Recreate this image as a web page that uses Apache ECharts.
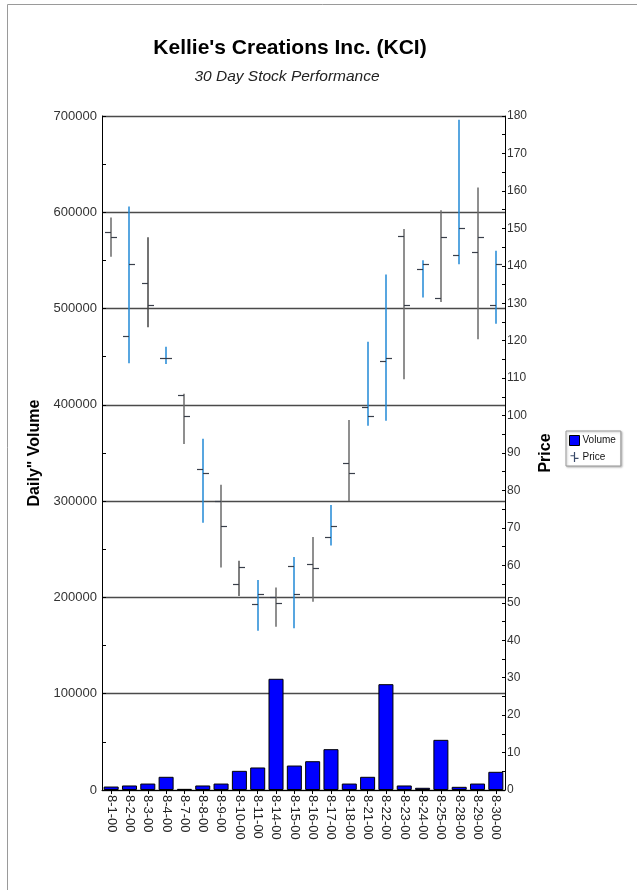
<!DOCTYPE html>
<html>
<head>
<meta charset="utf-8">
<title>Kellie's Creations Inc. (KCI)</title>
<script src="https://cdn.jsdelivr.net/npm/echarts@6/dist/echarts.min.js"></script>
<style>
  html, body { margin: 0; padding: 0; background: #fff; }
  #chart { width: 637px; height: 890px; }
</style>
</head>
<body>
<div id="chart"></div>
<script>
// Trading days, August 2000
const categories = ['8-1-00', '8-2-00', '8-3-00', '8-4-00', '8-7-00', '8-8-00', '8-9-00', '8-10-00',
  '8-11-00', '8-14-00', '8-15-00', '8-16-00', '8-17-00', '8-18-00', '8-21-00', '8-22-00',
  '8-23-00', '8-24-00', '8-25-00', '8-28-00', '8-29-00', '8-30-00'];

// Daily share volume
const volume = [3600, 4700, 6700, 13700, 1200, 4700, 6700, 19900, 23400, 115500, 25400,
  29900, 42400, 6700, 13700, 109900, 4700, 2300, 52100, 3300, 6700, 18900];

// Daily prices
const openPrice = [148.9, 121.3, 135.4, 115.5, 105.5, 85.8, 77.3, 54.9, 49.7, 51.6, 59.7,
  60.3, 67.7, 87.2, 102.3, 114.6, 148.0, 139.1, 131.5, 142.9, 143.8, 129.5];
const highPrice = [152.9, 155.8, 147.6, 118.4, 105.8, 93.8, 81.5, 61.2, 56.1, 54.1, 62.2,
  67.6, 76.1, 98.8, 119.7, 137.7, 149.8, 141.5, 154.8, 179.0, 160.9, 144.0];
const lowPrice = [142.4, 114.0, 123.6, 113.8, 92.4, 71.4, 59.4, 51.8, 42.5, 43.6, 43.2,
  50.3, 65.3, 77.2, 97.3, 98.6, 109.7, 131.5, 130.3, 140.4, 120.4, 124.5];
const closePrice = [147.6, 140.6, 129.4, 115.5, 100.0, 84.6, 70.6, 59.5, 52.3, 50.0, 52.3,
  59.4, 70.6, 84.6, 100.0, 115.5, 129.4, 140.6, 147.6, 150.2, 147.6, 140.6];

// Stroke colour of each price bar
const BLUE = '#2188d6', GREY = '#6a6a6a';
const hlcTint = [GREY, BLUE, '#444', BLUE, GREY, BLUE, GREY, '#555', BLUE, GREY, BLUE,
  GREY, BLUE, GREY, BLUE, BLUE, GREY, BLUE, GREY, BLUE, GREY, BLUE];

const FONT = '"Liberation Sans", Arial, sans-serif';

const priceRows = categories.map((c, i) => [i, openPrice[i], highPrice[i], lowPrice[i], closePrice[i]]);

const chart = echarts.init(document.getElementById('chart'), null, { renderer: 'canvas' });

// High-low bar with open tick on the left and close tick on the right
function renderHLC(params, api) {
  const i = api.value(0);
  const o = api.coord([i, api.value(1)]);
  const h = api.coord([i, api.value(2)]);
  const l = api.coord([i, api.value(3)]);
  const c = api.coord([i, api.value(4)]);
  const x = Math.round(h[0]);
  const tick = 6;
  const tint = hlcTint[params.dataIndex] || BLUE;
  return {
    type: 'group',
    children: [
      { type: 'line', shape: { x1: x, y1: h[1], x2: x, y2: l[1] },
        style: { stroke: tint, lineWidth: 1.5 } },
      { type: 'line', shape: { x1: x - tick, y1: Math.round(o[1]) + 0.5, x2: x, y2: Math.round(o[1]) + 0.5 },
        style: { stroke: '#3a3f4a', lineWidth: 1.2 } },
      { type: 'line', shape: { x1: x, y1: Math.round(c[1]) + 0.5, x2: x + tick, y2: Math.round(c[1]) + 0.5 },
        style: { stroke: '#3a3f4a', lineWidth: 1.2 } }
    ]
  };
}

const option = {
  animation: false,
  backgroundColor: '#fff',
  textStyle: { fontFamily: FONT },
  grid: { left: 102, right: 132, top: 116, bottom: 100, containLabel: false },
  legend: {
    orient: 'vertical',
    left: 566,
    top: 431,
    itemWidth: 10,
    itemHeight: 10,
    itemGap: 6,
    padding: [4, 5, 4, 3],
    borderColor: '#999',
    borderWidth: 1,
    backgroundColor: '#fff',
    shadowColor: 'rgba(0,0,0,0.25)',
    shadowBlur: 2,
    shadowOffsetX: 1,
    shadowOffsetY: 1,
    textStyle: { fontFamily: FONT, fontSize: 10, color: '#111', padding: [0, 0, 0, -2] },
    data: [
      { name: 'Volume', icon: 'rect', itemStyle: { color: '#0000ff', borderColor: '#000', borderWidth: 1 } },
      { name: 'Price', icon: 'path://M4.4,0h1.2v10h-1.2z M1,3.2h3.4v1.1h-3.4z M5.6,5.8h3.4v1.1h-3.4z',
        itemStyle: { color: '#3a4a6a' } }
    ]
  },
  xAxis: {
    type: 'category',
    data: categories,
    boundaryGap: true,
    axisLine: { lineStyle: { color: '#000', width: 1 } },
    axisTick: { show: true, alignWithLabel: true, length: 4, lineStyle: { color: '#000' } },
    axisLabel: { rotate: -90, fontSize: 13, color: '#222', margin: 5, fontFamily: FONT, interval: 0 }
  },
  yAxis: [
    {
      type: 'value',
      min: 0,
      max: 700000,
      interval: 100000,
      name: 'Daily" Volume',
      nameLocation: 'middle',
      nameRotate: 90,
      nameGap: 50,
      nameTextStyle: { fontFamily: FONT, fontSize: 16, fontWeight: 'bold', color: '#000' },
      axisLine: { show: true, lineStyle: { color: '#000', width: 1 } },
      axisTick: { show: true, inside: true, length: 4, lineStyle: { color: '#000' } },
      minorTick: { show: true, splitNumber: 2, length: 4, lineStyle: { color: '#000' } },
      axisLabel: { fontSize: 13, color: '#333', margin: 5, fontFamily: FONT,
        formatter: v => String(v) },
      splitLine: { show: true, lineStyle: { color: '#4a4a4a', width: 1.3 } }
    },
    {
      type: 'value',
      min: 0,
      max: 180,
      interval: 10,
      name: 'Price',
      nameLocation: 'middle',
      nameRotate: 90,
      nameGap: 23,
      nameTextStyle: { fontFamily: FONT, fontSize: 16, fontWeight: 'bold', color: '#000' },
      axisLine: { show: true, lineStyle: { color: '#000', width: 1 } },
      axisTick: { show: true, inside: true, length: 3, lineStyle: { color: '#000' } },
      minorTick: { show: true, splitNumber: 2, length: 3, lineStyle: { color: '#000' } },
      axisLabel: { fontSize: 12, color: '#333', margin: 2, fontFamily: FONT },
      splitLine: { show: false }
    }
  ],
  series: [
    {
      name: 'Volume',
      type: 'bar',
      yAxisIndex: 0,
      data: volume,
      barWidth: '82%',
      itemStyle: { color: '#0000ff', borderColor: '#000', borderWidth: 1 },
      z: 2
    },
    {
      name: 'Price',
      type: 'custom',
      yAxisIndex: 1,
      renderItem: renderHLC,
      encode: { x: 0, y: [1, 2, 3, 4] },
      data: priceRows,
      itemStyle: { color: '#3a4a6a' },
      z: 3
    }
  ],
  graphic: [
    { type: 'line', shape: { x1: 7.5, y1: 4.5, x2: 637, y2: 4.5 }, style: { stroke: '#9a9a9a', lineWidth: 1 } },
    { type: 'line', shape: { x1: 7.5, y1: 4.5, x2: 7.5, y2: 890 }, style: { stroke: '#9a9a9a', lineWidth: 1 } },
    { type: 'text', x: 290, y: 48,
      style: { text: "Kellie's Creations Inc. (KCI)", font: 'bold 21px ' + FONT, fill: '#000',
        textAlign: 'center', textVerticalAlign: 'middle' } },
    { type: 'text', x: 287, y: 77,
      style: { text: '30 Day Stock Performance', font: 'italic 15.5px ' + FONT, fill: '#222',
        textAlign: 'center', textVerticalAlign: 'middle' } }
  ]
};

chart.setOption(option);
</script>
</body>
</html>
